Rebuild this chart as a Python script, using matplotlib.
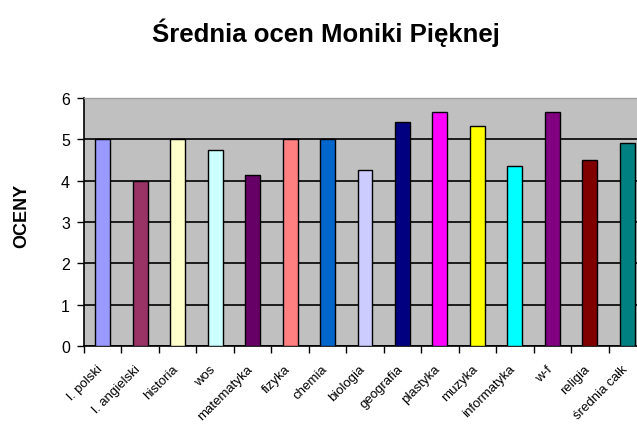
import matplotlib
matplotlib.use("Agg")
import matplotlib.pyplot as plt
import matplotlib.transforms as mtransforms
import numpy as np

subjects = ["l. polski", "l. angielski", "historia", "wos", "matematyka", "fizyka",
            "chemia", "biologia", "geografia", "plastyka", "muzyka", "informatyka",
            "w-f", "religia", "średnia całk"]
grades = [5.0, 4.0, 5.0, 4.75, 4.13, 5.0, 5.0, 4.27, 5.43, 5.67, 5.33, 4.36, 5.67, 4.5, 4.9]
colors = ["#9999FF", "#993366", "#FFFFCC", "#CCFFFF", "#660066", "#FF8080", "#0066CC",
          "#CCCCFF", "#000080", "#FF00FF", "#FFFF00", "#00FFFF", "#800080", "#800000", "#008080"]
yticks = [0, 1, 2, 3, 4, 5, 6]

plt.rcParams['font.family'] = ['Liberation Sans', 'DejaVu Sans']

W, H = 637, 435
fig = plt.figure(figsize=(W / 100, H / 100), dpi=100)
x0, x1, ytop, ybot = 84, 646, 99, 347
ax = fig.add_axes([x0 / W, (H - ybot) / H, (x1 - x0) / W, (ybot - ytop) / H])
ax.set_facecolor("#C0C0C0")

x = np.arange(len(subjects))
ax.bar(x, grades, width=0.4, color=colors, edgecolor="black", linewidth=1, zorder=3)

ax.set_xlim(-0.5, len(subjects) - 0.5)
ax.set_ylim(0, 6)
ax.set_yticks(yticks)
ax.set_yticklabels([str(t) for t in yticks], fontsize=11.5)
ax.yaxis.grid(True, color="black", linewidth=1.2, zorder=1)
ax.set_axisbelow(True)

ax.set_xticks(x)
ax.set_xticklabels(subjects, rotation=45, ha="right", va="top", rotation_mode="anchor",
                   fontsize=9.5)
ax.tick_params(axis="x", length=0, pad=12)
offset = mtransforms.ScaledTranslation(-6 / 100, 0, fig.dpi_scale_trans)
for lab in ax.get_xticklabels():
    lab.set_transform(lab.get_transform() + offset)
ax.set_xticks(np.arange(-0.5, len(subjects), 1.0), minor=True)
ax.tick_params(axis="x", which="minor", length=5, width=1, direction="out")
ax.tick_params(axis="y", length=5, width=1, direction="out", pad=5)

for s in ["top", "right"]:
    ax.spines[s].set_color("#A0A0A0")
    ax.spines[s].set_linewidth(1)
ax.spines["left"].set_linewidth(1.2)
ax.spines["bottom"].set_linewidth(1.2)

fig.text(22 / W, 1 - 216 / H, "OCENY", rotation=90, ha="center", va="center",
         fontsize=13, fontweight="bold")

fig.text(326 / W, 1 - 33 / H, "Średnia ocen Moniki Pięknej", ha="center", va="center",
         fontsize=18.5, fontweight="bold")

fig.savefig("out.png", dpi=100)
